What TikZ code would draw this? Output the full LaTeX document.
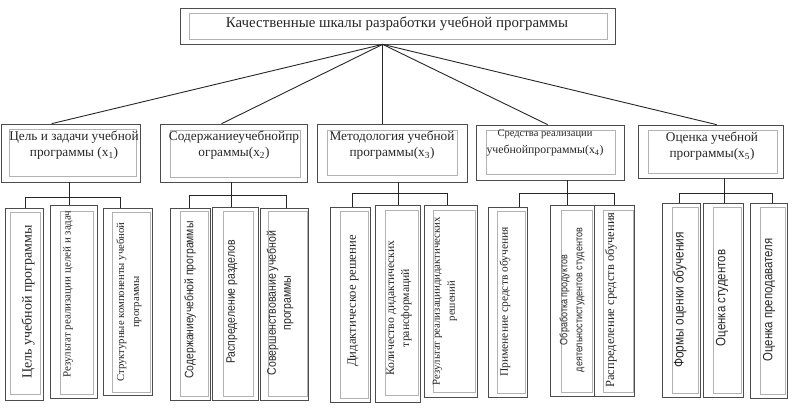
\documentclass[tikz,border=0pt]{standalone}
\usepackage{fontspec}
\setmainfont{Liberation Serif}
\newfontfamily\nsans[FakeStretch=0.85]{Liberation Sans}
\tikzset{
  outerbox/.style={draw=black!70, line width=0.7pt, inner sep=0pt},
  innerbox/.style={draw=black!30, line width=0.6pt, inner sep=0pt},
  txt/.style={inner sep=0pt, align=center, text=black!85},
  vtxt/.style={txt, rotate=90},
  conn/.style={draw=black!85, line width=0.9pt},
}
\newcommand\fs[2]{\fontsize{#1}{#2}\selectfont}
% box: [opts]{name}{x1}{y1}{x2}{y2}
\newcommand\bx[6][]{%
  \pgfmathsetmacro\bw{#5-#3}\pgfmathsetmacro\bh{#6-#4}%
  \pgfmathsetmacro\bcx{(#3+#5)/2}\pgfmathsetmacro\bcy{(#4+#6)/2}%
  \node[minimum width=\bw pt, minimum height=\bh pt, #1] (#2) at (\bcx,\bcy) {};}
\begin{document}
\begin{tikzpicture}[x=1pt,y=-1pt]
\useasboundingbox (0,0) rectangle (792,408);
% top
\bx[outerbox]{top}{180}{8}{615}{44}
\bx[innerbox]{topi}{189}{13}{607}{39}
\node[txt, font=\fs{14.9}{17}] (topt) at (397,24) {Качественные шкалы разработки учебной программы};
% middle
\bx[outerbox]{m1}{1}{124}{140}{182}
\bx[innerbox]{m1i}{9}{129}{136}{176}
\node[txt, font=\fs{13.3}{16}] (m1t) at (74,145) {Цель и задачи учебной\\программы (x\textsubscript{1})};
\bx[outerbox]{m2}{160}{124}{307}{182}
\bx[innerbox]{m2i}{170}{130}{300}{177}
\node[txt, font=\fs{13.3}{16}] (m2t) at (234,145) {Содержаниеучебнойпр\\ограммы(x\textsubscript{2})};
\bx[outerbox]{m3}{317}{124}{467}{182}
\bx[innerbox]{m3i}{327}{130}{457}{175}
\node[txt, font=\fs{13.3}{16}] (m3t) at (392,145) {Методология учебной\\программы(x\textsubscript{3})};
\bx[outerbox]{m4}{476}{125}{624}{180}
\bx[innerbox]{m4i}{486}{130}{615}{174}
\node[txt, font=\fs{10.5}{17}] (m4t) at (545,143) {Средства реализации\\{\fs{11.8}{14}учебнойпрограммы(x\textsubscript{4})}};
\bx[outerbox]{m5}{638}{125}{783}{178}
\bx[innerbox]{m5i}{648}{130}{777}{173}
\node[txt, font=\fs{13.3}{16}] (m5t) at (712,146) {Оценка учебной\\программы(x\textsubscript{5})};
% leaves group 1
\bx[outerbox]{l11}{5}{208}{43}{400}
\bx[innerbox]{l11i}{10}{212}{40}{394}
\node[vtxt, font=\fs{14}{17}] (l11t) at (28,302) {Цель учебной программы};
\bx[outerbox]{l12}{50}{205}{97}{398}
\bx[innerbox]{l12i}{60}{211}{93}{394}
\node[vtxt, font=\fs{11}{14}] (l12t) at (68,294) {Результат реализации целей и задач};
\bx[outerbox]{l13}{103}{208}{152}{395}
\bx[innerbox]{l13i}{112}{212}{150}{392}
\node[vtxt, font=\fs{10.7}{15}] (l13t) at (129,302) {Структурные компоненты учебной\\программы};
% group 2
\bx[outerbox]{l21}{170}{208}{210}{400}
\bx[innerbox]{l21i}{180}{211}{208}{396}
\node[vtxt, font=\nsans\fs{12.2}{15}] (l21t) at (190,300) {Содержаниеучебной программы};
\bx[outerbox]{l22}{212}{207}{258}{400}
\bx[innerbox]{l22i}{223}{211}{253}{396}
\node[vtxt, font=\nsans\fs{12.3}{15}] (l22t) at (232,302) {Распределение разделов};
\bx[outerbox]{l23}{260}{208}{308}{400}
\bx[innerbox]{l23i}{268}{211}{307}{396}
\node[vtxt, font=\nsans\fs{12.4}{15}] (l23t) at (280,303) {Совершенствование учебной\\программы};
% group 3
\bx[outerbox]{l31}{330}{207}{370}{402}
\bx[innerbox]{l31i}{340}{211}{368}{398}
\node[vtxt, font=\fs{12.7}{15}] (l31t) at (353,301) {Дидактическое решение};
\bx[outerbox]{l32}{375}{205}{420}{402}
\bx[innerbox]{l32i}{385}{210}{418}{395}
\node[vtxt, font=\fs{11.7}{15}] (l32t) at (399,308) {Количество дидактических\\трансформаций};
\bx[outerbox]{l33}{424}{205}{477}{397}
\bx[innerbox]{l33i}{433}{210}{475}{392}
\node[vtxt, font=\fs{10.8}{15}] (l33t) at (445,301) {Результат реализациидидактических\\решений};
% group 4
\bx[outerbox]{l41}{488}{207}{527}{397}
\bx[innerbox]{l41i}{497}{211}{525}{393}
\node[vtxt, font=\fs{11.5}{14}] (l41t) at (505,302) {Применение средств обучения};
\bx[outerbox]{l42}{550}{205}{594}{396}
\bx[innerbox]{l42i}{561}{210}{592}{392}
\node[vtxt, font=\nsans\fs{10.6}{15}] (l42t) at (572,300) {Обработка продуктов\\деятельностистудентов студентов};
\bx[outerbox]{l43}{594}{205}{634}{396}
\bx[innerbox]{l43i}{603}{210}{633}{392}
\node[vtxt, font=\fs{12.5}{15}] (l43t) at (611,300) {Распределение средств обучения};
% group 5
\bx[outerbox]{l51}{662}{203}{700}{397}
\bx[innerbox]{l51i}{672}{207}{698}{393}
\node[vtxt, font=\nsans\fs{14}{16}] (l51t) at (680,300) {Формы оценки обучения};
\bx[outerbox]{l52}{703}{203}{743}{397}
\bx[innerbox]{l52i}{713}{207}{741}{393}
\node[vtxt, font=\nsans\fs{13.5}{16}] (l52t) at (722,298) {Оценка студентов};
\bx[outerbox]{l53}{750}{203}{787}{398}
\bx[innerbox]{l53i}{760}{207}{785}{394}
\node[vtxt, font=\nsans\fs{13.4}{16}] (l53t) at (769,300) {Оценка преподавателя};
% fan
\coordinate (apex) at ([xshift=203pt]top.south west);
\draw[conn] (apex) -- ([xshift=51pt]m1.north west);
\draw[conn] (apex) -- ([xshift=62pt]m2.north west);
\draw[conn] (apex) -- ([xshift=66pt]m3.north west);
\draw[conn] (apex) -- ([xshift=72pt]m4.north west);
\draw[conn] (apex) -- ([xshift=79pt]m5.north west);
% group connectors
\coordinate (b1) at ([xshift=69pt,yshift=-15pt]m1.south west);
\draw[conn] ([xshift=69pt]m1.south west) -- ([xshift=20pt]l12.north west);
\draw[conn] ([xshift=21pt]l11.north west) |- (b1) -| ([xshift=18pt]l13.north west);
\coordinate (b2) at ([xshift=72pt,yshift=-13pt]m2.south west);
\draw[conn] ([xshift=72pt]m2.south west) -- ([xshift=20pt]l22.north west);
\draw[conn] ([xshift=20pt]l21.north west) |- (b2) -| ([xshift=27pt]l23.north west);
\coordinate (b3) at ([xshift=82pt,yshift=-11pt]m3.south west);
\draw[conn] ([xshift=82pt]m3.south west) -- ([xshift=24pt]l32.north west);
\draw[conn] ([xshift=23pt]l31.north west) |- (b3) -| ([xshift=24pt]l33.north west);
\coordinate (b4) at ([xshift=92pt,yshift=-13pt]m4.south west);
\draw[conn] ([xshift=92pt]m4.south west) -- ([xshift=18pt]l42.north west);
\draw[conn] ([xshift=32pt]l41.north west) |- (b4) -| ([xshift=21pt]l43.north west);
\coordinate (b5) at ([xshift=87pt,yshift=-15pt]m5.south west);
\draw[conn] ([xshift=87pt]m5.south west) -- ([xshift=22pt]l52.north west);
\draw[conn] ([xshift=18pt]l51.north west) |- (b5) -| ([xshift=23pt]l53.north west);
\end{tikzpicture}
\end{document}
